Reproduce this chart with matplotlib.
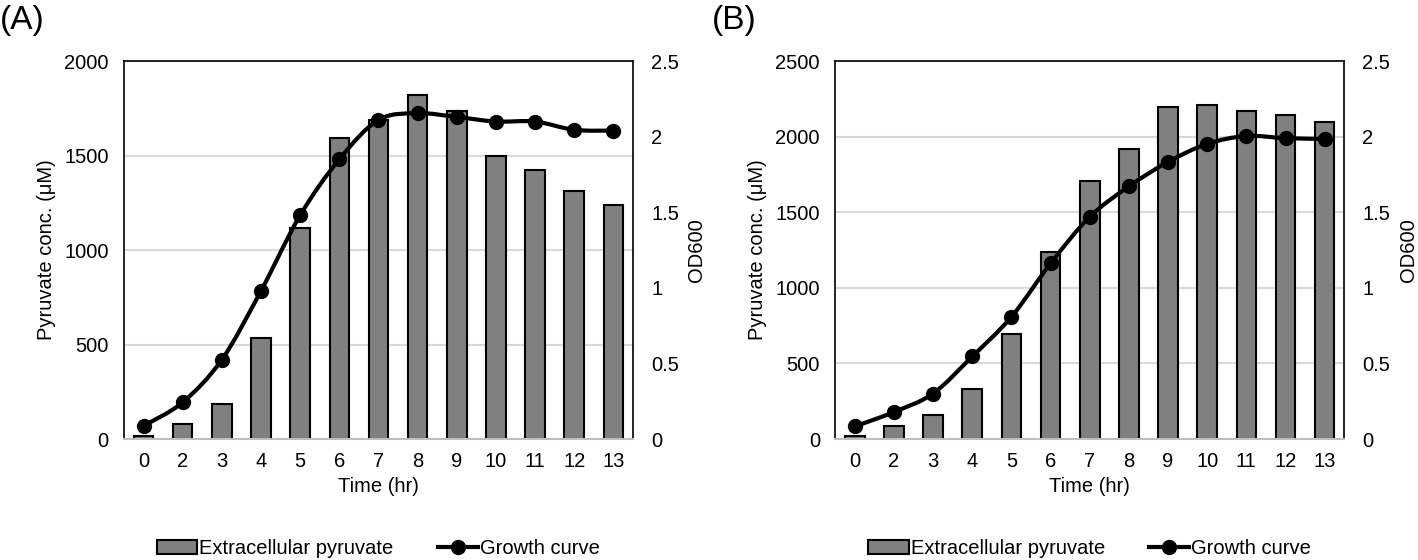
import matplotlib
matplotlib.use('Agg')
import matplotlib.pyplot as plt
import numpy as np
from matplotlib.path import Path
from matplotlib.patches import PathPatch, Patch
from matplotlib.lines import Line2D

plt.rcParams['font.family'] = ['Liberation Sans', 'DejaVu Sans']

# ---- data ----
time_labels = ['0', '2', '3', '4', '5', '6', '7', '8', '9', '10', '11', '12', '13']

pyruvate_a = [16, 80, 187, 533, 1117, 1594, 1690, 1820, 1735, 1500, 1422, 1315, 1239]
od_a = [0.087, 0.243, 0.525, 0.98, 1.48, 1.85, 2.11, 2.155, 2.13, 2.10, 2.10, 2.045, 2.04]

pyruvate_b = [22, 87, 157, 332, 696, 1239, 1704, 1921, 2197, 2210, 2167, 2140, 2096]
od_b = [0.083, 0.179, 0.301, 0.546, 0.808, 1.162, 1.469, 1.671, 1.833, 1.952, 2.004, 1.99, 1.985]

panels = [
    ('(A)', pyruvate_a, od_a, 2000, [0, 500, 1000, 1500, 2000]),
    ('(B)', pyruvate_b, od_b, 2500, [0, 500, 1000, 1500, 2000, 2500]),
]


def smooth_path(x, y):
    # excel-like smoothed line: bezier with catmull-rom control points
    verts = [(x[0], y[0])]
    codes = [Path.MOVETO]
    n = len(x)
    for i in range(n - 1):
        p0 = (x[max(i - 1, 0)], y[max(i - 1, 0)])
        p1 = (x[i], y[i])
        p2 = (x[i + 1], y[i + 1])
        p3 = (x[min(i + 2, n - 1)], y[min(i + 2, n - 1)])
        c1 = (p1[0] + (p2[0] - p0[0]) / 6, p1[1] + (p2[1] - p0[1]) / 6)
        c2 = (p2[0] - (p3[0] - p1[0]) / 6, p2[1] - (p3[1] - p1[1]) / 6)
        verts += [c1, c2, p2]
        codes += [Path.CURVE4] * 3
    return Path(verts, codes)


fig = plt.figure(figsize=(14.18, 5.6), dpi=100)
lefts = [0.0874, 0.589]
tag_x = [0.0, 0.502]
fs = 14.5

for (tag, pyr, od, ymax, yt), left, tx in zip(panels, lefts, tag_x):
    ax = fig.add_axes([left, 0.216, 0.359, 0.675])
    x = np.arange(len(time_labels))
    ax.bar(x, pyr, width=0.5, color='#808080', edgecolor='black', linewidth=1.5, zorder=2)
    ax.set_xlim(-0.5, len(time_labels) - 0.5)
    ax.set_ylim(0, ymax)
    ax.set_yticks(yt)
    ax.set_xticks(x)
    ax.set_xticklabels(time_labels)
    ax.tick_params(length=0, labelsize=fs, pad=11)
    ax.tick_params(axis='x', pad=9)
    ax.yaxis.grid(True, color='#d9d9d9', linewidth=1.5, zorder=0)
    ax.set_axisbelow(True)
    for s in ['left', 'top', 'right']:
        ax.spines[s].set_color('black')
        ax.spines[s].set_linewidth(1.2)
    ax.spines['bottom'].set_color('#bfbfbf')
    ax.spines['bottom'].set_linewidth(1.5)
    ax.set_xlabel('Time (hr)', fontsize=fs, labelpad=5)
    ax.set_ylabel('Pyruvate conc. (μM)', fontsize=fs, labelpad=6)

    ax2 = ax.twinx()
    ax2.set_ylim(0, 2.5)
    ax2.set_yticks([0, 0.5, 1, 1.5, 2, 2.5])
    ax2.set_yticklabels(['0', '0.5', '1', '1.5', '2', '2.5'])
    ax2.tick_params(length=0, labelsize=fs, pad=13)
    for s in ax2.spines.values():
        s.set_visible(False)
    ax2.set_ylabel('OD600', fontsize=fs, labelpad=6)
    ax2.add_patch(PathPatch(smooth_path(x, od), facecolor='none', edgecolor='black',
                            linewidth=3, zorder=3, capstyle='round'))
    ax2.plot(x, od, 'o', color='black', markersize=10, zorder=4)

    fig.text(tx, 0.964, tag, fontsize=24, va='center', ha='left')

    handles = [Patch(facecolor='#808080', edgecolor='black', linewidth=1.5),
               Line2D([], [], color='black', linewidth=3, marker='o', markersize=10)]
    ax.legend(handles, ['Extracellular pyruvate', 'Growth curve'], loc='center',
              bbox_to_anchor=(0.5, -0.29), ncol=2, frameon=False, fontsize=fs,
              handlelength=2.0, handletextpad=0.1, columnspacing=2.2)

fig.savefig('out.png', dpi=100)
